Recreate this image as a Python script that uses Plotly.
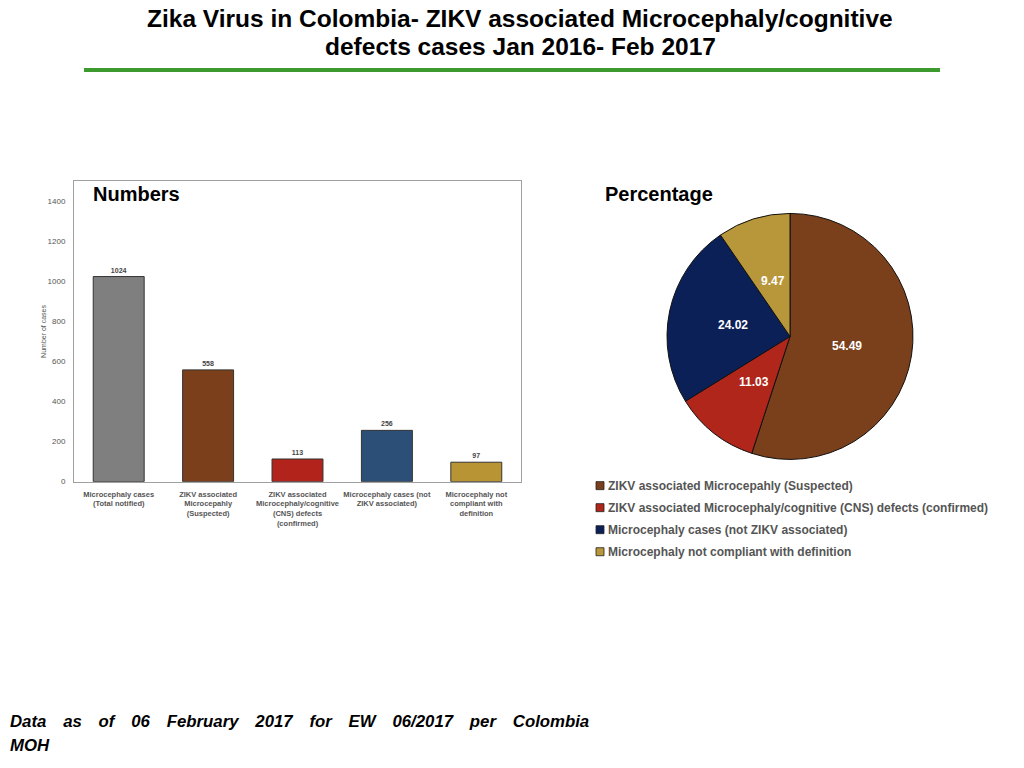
import math
import plotly.graph_objects as go

# bar chart data
bar_labels = [
    "Microcephaly cases<br>(Total notified)",
    "ZIKV associated<br>Microcepahly<br>(Suspected)",
    "ZIKV associated<br>Microcephaly/cognitive<br>(CNS) defects<br>(confirmed)",
    "Microcephaly cases (not<br>ZIKV associated)",
    "Microcephaly not<br>compliant with<br>definition",
]
bar_values = [1024, 558, 113, 256, 97]
bar_colors = ["#7f7f7f", "#7b3f1b", "#b2241b", "#2c4f78", "#b89434"]

# pie chart data
pie_labels = [
    "ZIKV associated Microcepahly (Suspected)",
    "ZIKV associated Microcephaly/cognitive (CNS) defects (confirmed)",
    "Microcephaly cases (not ZIKV associated)",
    "Microcephaly not compliant with definition",
]
pie_values = [54.49, 11.03, 24.02, 9.47]
pie_colors = ["#7a3f1b", "#b0261b", "#0c2058", "#b8963a"]

W, H = 1024, 768
YS = 768 / 762  # the photographed page comes out a little squashed vertically


def px(x):
    return x / W


def py(y):
    return 1 - (y * YS) / H


FONT = "Liberation Sans"

fig = go.Figure()

fig.add_trace(go.Bar(
    x=bar_labels, y=bar_values,
    marker=dict(color=bar_colors, line=dict(color="#333333", width=1)),
    width=0.57,
    text=[str(v) for v in bar_values],
    textposition="outside",
    cliponaxis=False,
    textfont=dict(size=7, color="#444444", family=FONT, weight="bold"),
    showlegend=False,
))

# pie geometry (pixels)
cx, cy, r = 790, 336, 123
fig.add_trace(go.Pie(
    labels=pie_labels, values=pie_values,
    marker=dict(colors=pie_colors, line=dict(color="#111111", width=1)),
    sort=False, direction="clockwise", rotation=0,
    textinfo="none",
    domain=dict(x=[px(cx - r), px(cx + r)], y=[py(cy + r), py(cy - r)]),
    showlegend=False,
))

# slice value labels at about half radius of each slice's mid angle
total = sum(pie_values)
cum = 0
for v in pie_values:
    mid = (cum + v / 2) / total * 2 * math.pi
    cum += v
    lx = cx + 0.47 * r * math.sin(mid)
    ly = cy - 0.47 * r * math.cos(mid)
    fig.add_annotation(x=px(lx), y=py(ly), xref="paper", yref="paper",
                       xanchor="center", yanchor="middle",
                       text=f"{v:.2f}", showarrow=False,
                       font=dict(size=12, color="white", family=FONT, weight="bold"))

# legend for the pie
for i, (lab, col) in enumerate(zip(pie_labels, pie_colors)):
    ly = 485 + 22 * i
    fig.add_shape(type="rect", xref="paper", yref="paper",
                  x0=px(596), x1=px(604), y0=py(ly + 4), y1=py(ly - 4),
                  fillcolor=col, line=dict(color="#222222", width=0.8))
    fig.add_annotation(x=px(606), y=py(ly), xref="paper", yref="paper",
                       xanchor="left", yanchor="middle", text=lab, showarrow=False,
                       font=dict(size=12, color="#555555", family=FONT, weight="bold"))

fig.update_layout(
    width=W, height=H,
    margin=dict(l=0, r=0, t=0, b=0),
    paper_bgcolor="white", plot_bgcolor="white",
    font=dict(family=FONT, color="#555555"),
    showlegend=False,
    xaxis=dict(
        domain=[px(74), px(521)],
        showline=True, mirror=True, linecolor="#a0a0a0", linewidth=1,
        tickfont=dict(size=7.5, color="#555555", weight="bold"),
        ticks="", showgrid=False, ticklabelstandoff=5,
    ),
    yaxis=dict(
        domain=[py(481), py(181)],
        range=[0, 1500], tickvals=[0, 200, 400, 600, 800, 1000, 1200, 1400],
        showline=True, mirror=True, linecolor="#a0a0a0", linewidth=1,
        tickfont=dict(size=8, color="#555555"),
        ticks="", showgrid=False, zeroline=False, ticklabelstandoff=6,
        title=dict(text="Number of cases", font=dict(size=7, color="#555555"), standoff=0),
    ),
)

# titles
title_lines = ["Zika Virus in Colombia- ZIKV associated Microcephaly/cognitive",
               "defects cases Jan 2016- Feb 2017"]
for line, ty in zip(title_lines, [18, 46]):
    fig.add_annotation(
        x=px(520), y=py(ty), xref="paper", yref="paper", xanchor="center", yanchor="middle",
        text=line, showarrow=False,
        font=dict(size=24.5, color="black", family=FONT, weight="bold"),
    )
fig.add_shape(type="line", xref="paper", yref="paper",
              x0=px(84), x1=px(940), y0=py(70), y1=py(70),
              line=dict(color="#3d9a2e", width=4))

fig.add_annotation(x=px(91), y=py(194), xref="paper", yref="paper",
                   xanchor="left", yanchor="middle", text="Numbers", showarrow=False,
                   font=dict(size=20, color="black", family=FONT, weight="bold"))
fig.add_annotation(x=px(603), y=py(194), xref="paper", yref="paper",
                   xanchor="left", yanchor="middle", text="Percentage", showarrow=False,
                   font=dict(size=20, color="black", family=FONT, weight="bold"))

gap = " " + "\u00a0" * 2 + "\u200a" * 2
foot1 = gap.join("Data as of 06 February 2017 for EW 06/2017 per Colombia".split(" "))
fig.add_annotation(x=px(8), y=py(721), xref="paper", yref="paper",
                   xanchor="left", yanchor="middle", align="left", showarrow=False,
                   text=f"<i>{foot1}</i>",
                   font=dict(size=16.8, color="black", family=FONT, weight="bold"))
fig.add_annotation(x=px(8), y=py(745), xref="paper", yref="paper",
                   xanchor="left", yanchor="middle", align="left", showarrow=False,
                   text="<i>MOH</i>",
                   font=dict(size=16.8, color="black", family=FONT, weight="bold"))

fig.write_html("out.html", config={"displayModeBar": False},
               post_script="document.body.style.margin='0px';")
